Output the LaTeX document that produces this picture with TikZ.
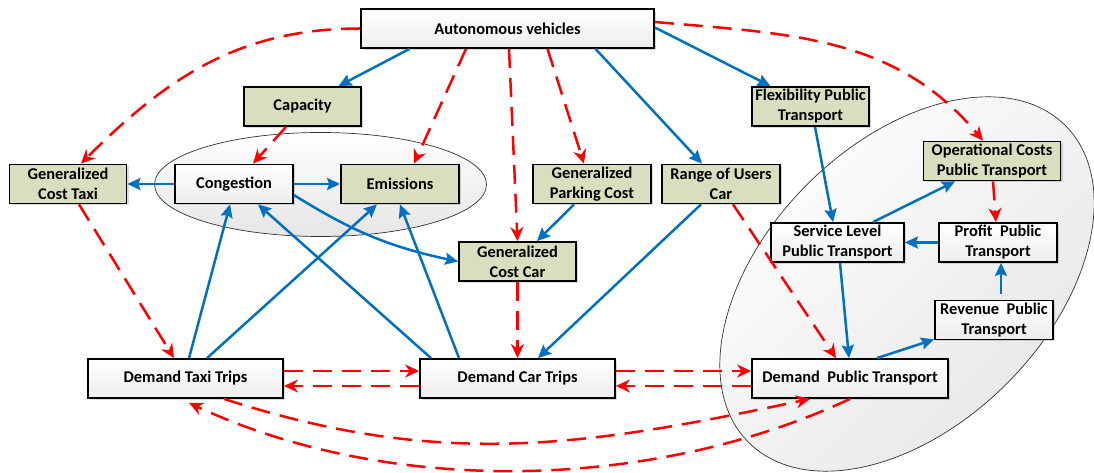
\documentclass[tikz,border=0pt]{standalone}
\usepackage{fontspec}
\setmainfont{Carlito}
\usepackage{tikz}
\usetikzlibrary{arrows.meta}
\usetikzlibrary{shadows, shapes}
\definecolor{avblue}{RGB}{0,112,192}
\definecolor{avred}{RGB}{255,0,0}
\definecolor{boxgreen}{RGB}{215,223,190}
\tikzset{
    box/.style={draw, line width=1.8pt, minimum height=39pt, inner sep=2pt, align=center,
        font=\bfseries\fontsize{16.4}{20}\selectfont,
        drop shadow={shadow xshift=2pt, shadow yshift=-2pt, opacity=.3}},
    greenbox/.style={box, fill=boxgreen, minimum width=117pt},
    whitebox/.style={box, top color=white, bottom color=gray!14, minimum width=117pt},
    blueline/.style={draw=avblue, line width=2.5pt, -{Stealth[length=13pt, width=12pt, inset=2pt]}},
    reddash/.style={draw=avred, line width=2.5pt, dash pattern=on 19pt off 10pt,
        -{Stealth[length=14pt, width=13pt, inset=4.5pt]}},
    loopzone/.style={draw=black!80, line width=.7pt, top color=white, bottom color=gray!20}
}

\begin{document}
\begin{tikzpicture}[x=1pt, y=1pt]
    \useasboundingbox (0,0) rectangle (1094,473);
    % feedback zones
    \path[loopzone] (320.5,288.5) ellipse [x radius=166, y radius=52];
    \path[loopzone, rotate around={45:(907,189)}, shading angle=45] (907,189) ellipse [x radius=224, y radius=141];

    \node[whitebox, minimum width=293pt] (av) at (507.5,444.5) {Autonomous vehicles};
    \node[greenbox] (capacity) at (302.5,366.5) {Capacity};
    \node[greenbox] (flex) at (810.5,366.5) {Flexibility Public\\Transport};
    \node[greenbox] (gctaxi) at (68,289) {Generalized\\Cost Taxi};
    \node[whitebox, minimum width=118pt] (congestion) at (234,289) {Congestion};
    \node[greenbox, minimum width=118pt] (emissions) at (400,289) {Emissions};
    \node[greenbox, minimum width=118pt] (gpark) at (592,289) {Generalized\\Parking Cost};
    \node[greenbox, minimum width=118pt] (range) at (721,289) {Range of Users\\Car};
    \node[greenbox, minimum width=137pt] (opcost) at (992,312) {Operational Costs\\Public Transport};
    \node[greenbox] (gccar) at (517.5,211.5) {Generalized\\Cost Car};
    \node[whitebox, minimum width=133pt] (service) at (837.5,230.5) {Service Level\\Public Transport};
    \node[whitebox, minimum width=118pt] (profit) at (998,230.5) {Profit~ Public\\Transport};
    \node[whitebox, minimum width=118pt] (revenue) at (994,153) {Revenue~ Public\\Transport};
    \node[whitebox, minimum width=195pt] (dtaxi) at (185.5,94.5) {Demand Taxi Trips};
    \node[whitebox, minimum width=195pt] (dcar) at (517.5,94.5) {Demand Car Trips};
    \node[whitebox, minimum width=196pt] (dpt) at (850,94.5) {Demand~ Public Transport};

    % positive links
    \draw[blueline] ([xshift=-98pt]av.south) -- ([xshift=36pt]capacity.north);
    \draw[blueline] ([xshift=88pt]av.south) -- ([xshift=-19pt]range.north);
    \draw[blueline] ([yshift=1pt]av.east) -- ([xshift=-40pt]flex.north);
    \draw[blueline] (congestion.west) -- (gctaxi.east);
    \draw[blueline] (congestion.east) -- (emissions.west);
    \draw[blueline] ([yshift=-11pt]congestion.east) to[bend right=10] (gccar.west);
    \draw[blueline] ([xshift=3.5pt]dtaxi.north) -- ([xshift=-4pt]congestion.south);
    \draw[blueline] ([xshift=21.5pt]dtaxi.north) -- ([xshift=-23pt]emissions.south);
    \draw[blueline] ([xshift=-86.5pt]dcar.north) -- ([xshift=24pt]congestion.south);
    \draw[blueline] ([xshift=-58.5pt]dcar.north) -- (emissions.south);
    \draw[blueline] ([xshift=-18pt]gpark.south) -- ([xshift=19.5pt]gccar.north);
    \draw[blueline] ([xshift=-20pt]range.south) -- ([xshift=20.5pt]dcar.north);
    \draw[blueline] ([xshift=4.5pt]flex.south) -- ([xshift=-4.5pt]service.north);
    \draw[blueline] ([xshift=35.5pt]service.north) -- ([xshift=-37pt]opcost.south);
    \draw[blueline] (profit.west) -- (service.east);
    \draw[blueline] ([xshift=2.5pt]service.south) -- ([xshift=-1pt]dpt.north);
    \draw[blueline] ([xshift=27pt]dpt.north) -- ([yshift=1pt]revenue.south west);
    \draw[blueline, shorten <=6pt] ([xshift=7pt]revenue.north) -- ([xshift=3pt]profit.south);

    % negative links
    \draw[reddash] (av.west) to[out=180, in=45] ([xshift=13pt]gctaxi.north);
    \draw[reddash] ([xshift=-41.5pt]av.south) -- ([xshift=14pt]emissions.north);
    \draw[reddash] ([xshift=1.5pt]av.south) -- (gccar.north);
    \draw[reddash] ([xshift=40pt]av.south) -- ([xshift=-8pt]gpark.north);
    \draw[reddash] ([yshift=6.5pt]av.east) to[out=-5, in=130] ([xshift=-9pt]opcost.north);
    \draw[reddash] ([xshift=-16.5pt]capacity.south) -- ([xshift=19pt]congestion.north);
    \draw[reddash] ([xshift=11pt]gctaxi.south) -- ([xshift=-11.5pt]dtaxi.north);
    \draw[reddash] (gccar.south) -- (dcar.north);
    \draw[reddash] ([xshift=12pt]range.south) -- ([xshift=-14pt]dpt.north);
    \draw[reddash] ([xshift=1pt]opcost.south) -- ([xshift=-2pt]profit.north);
    \draw[reddash] ([yshift=7.5pt]dtaxi.east) -- ([yshift=7.5pt]dcar.west);
    \draw[reddash] ([yshift=-7.5pt]dcar.west) -- ([yshift=-7.5pt]dtaxi.east);
    \draw[reddash] ([yshift=7.5pt]dcar.east) -- ([yshift=7.5pt]dpt.west);
    \draw[reddash] ([yshift=-7.5pt]dpt.west) -- ([yshift=-7.5pt]dcar.east);
    \draw[reddash] ([xshift=38.5pt]dtaxi.south) to[out=-18, in=192] ([xshift=-40pt]dpt.south);
    \draw[reddash] (dpt.south) to[out=-155, in=-25, looseness=.85] ([xshift=3.5pt, yshift=-4pt]dtaxi.south);
\end{tikzpicture}
\end{document}
